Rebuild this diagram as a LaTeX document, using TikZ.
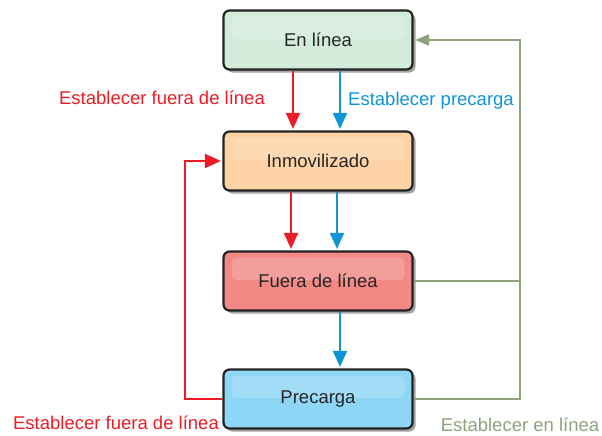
\documentclass[tikz,border=0pt]{standalone}
\usepackage{fontspec}
\setmainfont{Liberation Sans}
\usetikzlibrary{arrows.meta,shadows}
\definecolor{cred}{HTML}{ED1C24}
\definecolor{cblue}{HTML}{0F94D6}
\definecolor{cgreen}{HTML}{8CA37C}
\definecolor{fgreen}{HTML}{D2EBDB}
\definecolor{forange}{HTML}{FDD2A4}
\definecolor{fred}{HTML}{F28985}
\definecolor{fblue}{HTML}{8DD6F6}
\definecolor{cborder}{HTML}{222222}
\tikzset{
  state/.style={draw=cborder, line width=2.2pt, rounded corners=6pt,
    minimum width=189pt, minimum height=59pt, inner sep=0pt,
    font=\fontsize{18.5}{21}\selectfont, text=black!85,
    drop shadow={shadow xshift=3pt, shadow yshift=-3pt, fill=black!45, opacity=0.8},
    path picture={\fill[white, opacity=0.18, rounded corners=5pt]
      ([xshift=8pt,yshift=-6pt]path picture bounding box.north west) rectangle
      ([xshift=-8pt,yshift=1pt]path picture bounding box.east);}},
  conn/.style={line width=2pt, shorten >=1.5pt, -{Triangle[width=14pt,length=16pt]}},
  gconn/.style={line width=2pt, shorten >=1.5pt, -{Triangle[width=11pt,length=14pt]}},
  lbl/.style={font=\fontsize{18.5}{21}\selectfont, inner sep=0pt}
}
\begin{document}
\begin{tikzpicture}[x=1pt,y=-1pt]
\useasboundingbox (0,0) rectangle (602,436);
\node[state, fill=fgreen] (en) at (318,40) {En línea};
\node[state, fill=forange] (inm) at (318,161) {Inmovilizado};
\node[state, fill=fred] (fue) at (318,281) {Fuera de línea};
\node[state, fill=fblue] (pre) at (318,399) {Precarga};

\draw[conn, cred] ([xshift=-25pt]en.south) -- ([xshift=-25pt]inm.north);
\draw[conn, cblue] ([xshift=22pt]en.south) -- ([xshift=22pt]inm.north);
\draw[conn, cred] ([xshift=-27pt]inm.south) -- ([xshift=-27pt]fue.north);
\draw[conn, cblue] ([xshift=19pt]inm.south) -- ([xshift=19pt]fue.north);
\draw[conn, cblue] ([xshift=22pt]fue.south) -- ([xshift=22pt]pre.north);

\coordinate (rl) at (185,399);
\draw[conn, cred] (pre.west) -- (rl) |- (inm.west);

\coordinate (gr) at (520,40);
\coordinate (gb) at (520,399);
\draw[line width=2pt, cgreen] (fue.east) -- (gr |- fue.east);
\draw[gconn, cgreen] (pre.east) -- (gb) -- (gr) -- (en.east);

\node[lbl, text=cred] (l1) at (162,98) {Establecer fuera de línea};
\node[lbl, text=cblue] (l2) at (431,101) {Establecer precarga};
\node[lbl, text=cred] (l3) at (116,423) {Establecer fuera de línea};
\node[lbl, text=cgreen] (l4) at (520,425) {Establecer en línea};
\end{tikzpicture}
\end{document}
